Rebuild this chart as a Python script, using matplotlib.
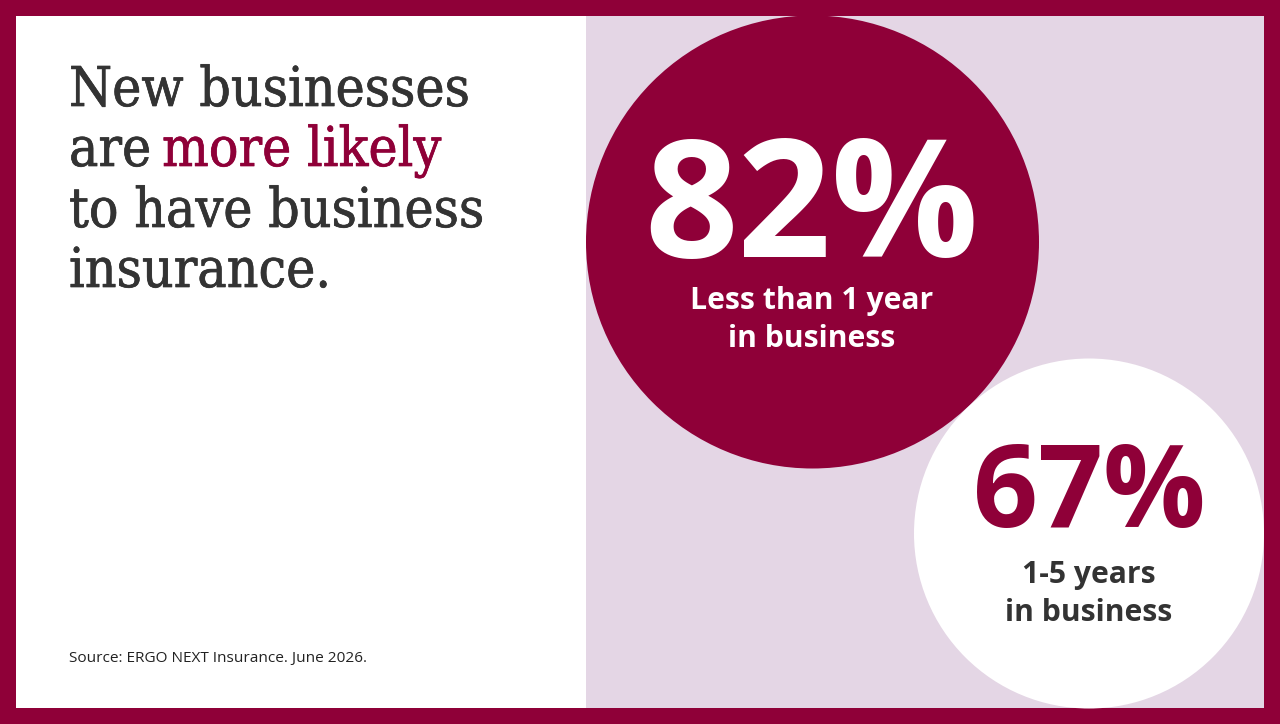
import matplotlib
matplotlib.use("Agg")
import matplotlib.pyplot as plt
import matplotlib.patheffects as pe
from matplotlib.patches import Rectangle, Circle

percent_labels = ["82%", "67%"]
group_labels = ["Less than 1 year\nin business", "1-5 years\nin business"]
title_lines = ["New businesses", "are ", "to have business", "insurance."]
title_accent = "more likely"
source = "Source: ERGO NEXT Insurance. June 2026."

WINE = "#8F0038"
LILAC = "#E4D6E5"
DARK = "#333333"
SERIF = "DejaVu Serif"
SANS = "Open Sans"
TITLE_SIZE = 39.5

fig = plt.figure(figsize=(12.8, 7.24), dpi=100, facecolor=WINE)
ax = fig.add_axes([0, 0, 1, 1])
ax.set_xlim(0, 1280)
ax.set_ylim(724, 0)
ax.axis("off")

ax.add_patch(Rectangle((16, 16), 570, 692, fc="white", ec="none"))
ax.add_patch(Rectangle((586, 16), 678, 692, fc=LILAC, ec="none"))
ax.add_patch(Circle((812.5, 242), 226.5, fc=WINE, ec="none"))
ax.add_patch(Circle((1089, 533.5), 175, fc="white", ec="none"))

for y, line in zip([106, 166, 227, 287], title_lines):
    ax.text(69, y, line, fontsize=TITLE_SIZE, family=SERIF, stretch="condensed", color=DARK,
            va="baseline", ha="left",
            path_effects=[pe.withStroke(linewidth=0.5, foreground=DARK)])
ax.text(162, 166, title_accent, fontsize=TITLE_SIZE, family=SERIF, stretch="condensed", color=WINE,
        va="baseline", ha="left",
        path_effects=[pe.withStroke(linewidth=0.5, foreground=WINE)])

ax.text(811.5, 257, percent_labels[0], fontsize=118, family=SANS, weight="bold", color="white",
        ha="center", va="baseline")
ax.text(811.5, 301, group_labels[0].split("\n")[0], fontsize=21.7, family=SANS, weight="bold",
        color="white", ha="center", va="center")
ax.text(811.5, 339, group_labels[0].split("\n")[1], fontsize=21.7, family=SANS, weight="bold",
        color="white", ha="center", va="center")

ax.text(1089.5, 527, percent_labels[1], fontsize=82, family=SANS, weight="bold", color=WINE,
        ha="center", va="baseline")
ax.text(1089, 575, group_labels[1].split("\n")[0], fontsize=21.7, family=SANS, weight="bold",
        color=DARK, ha="center", va="center")
ax.text(1089, 613, group_labels[1].split("\n")[1], fontsize=21.7, family=SANS, weight="bold",
        color=DARK, ha="center", va="center")

ax.text(69, 662, source, fontsize=11.1, family=SANS, color="#222222", ha="left", va="baseline")

fig.savefig("out.png", dpi=100, facecolor=WINE)
